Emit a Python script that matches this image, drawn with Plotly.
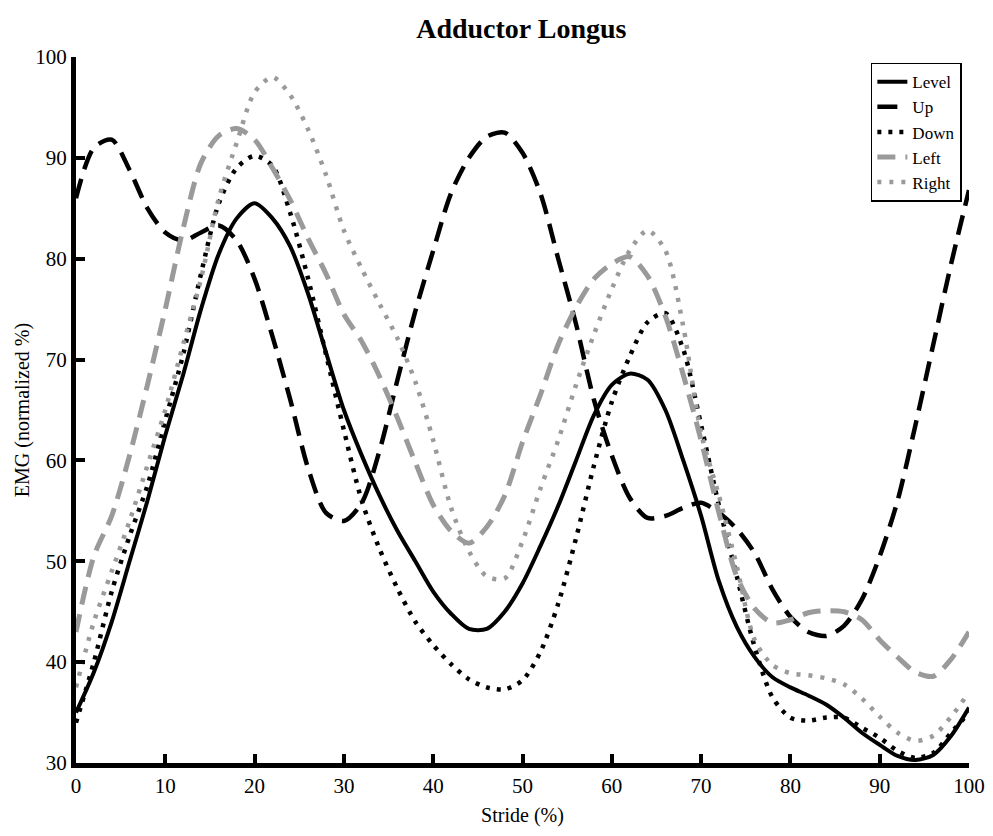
import plotly.graph_objects as go

# Stride positions (% of gait cycle) shared by every condition
stride = [0, 2, 4, 6, 8, 10, 12, 14, 16, 18, 20, 22, 24, 26, 28, 30, 32, 34, 36, 38,
          40, 42, 44, 46, 48, 50, 52, 54, 56, 58, 60, 62, 64, 66, 68, 70, 72, 74, 76, 78,
          80, 82, 84, 86, 88, 90, 92, 94, 96, 98, 100]

# Normalized EMG (%) for each walking condition
level = [35, 39, 44, 50, 56, 62.5, 68.5, 75, 80.5, 84, 85.5, 84, 81.2, 76.5, 70.7, 65,
         60.5, 56.5, 53, 50, 47, 44.8, 43.3, 43.3, 45, 47.8, 51.5, 55.5, 60, 64.5, 67.5,
         68.6, 68, 65, 60, 54.5, 48, 43.5, 40.5, 38.5, 37.5, 36.7, 35.8, 34.5, 33, 31.8,
         30.7, 30.3, 30.8, 32.7, 35.5]
up = [86, 91, 91.8, 88.8, 85, 82.6, 81.8, 82.6, 83.3, 81.8, 78, 72.3, 66, 59.2, 54.8,
      54, 55.8, 61, 68, 74.8, 80.8, 86.5, 90, 92.1, 92.5, 90.5, 86.5, 80, 73.5, 66,
      60.5, 56.3, 54.3, 54.5, 55.3, 55.8, 54.8, 53.2, 50.8, 47.2, 44.5, 43, 42.6, 43.6,
      46.2, 50.5, 56, 63.5, 71.5, 79.5, 86.8]
down = [34, 40, 47, 52.5, 57.5, 64, 70.5, 78.5, 85.5, 89, 90.2, 89.2, 84.5, 78, 70.5,
        63, 56, 51.2, 47.3, 44, 41.7, 39.8, 38.3, 37.5, 37.3, 38.2, 41, 45.8, 52.3, 59.5,
        65.8, 70.3, 73.7, 74.6, 71, 63.5, 55.5, 48.5, 41.5, 36.5, 34.5, 34.2, 34.5, 34.5,
        33.5, 32.5, 31.2, 30.5, 31, 33, 35]
left = [43, 50.5, 54.5, 60.5, 67.5, 75, 83, 89.5, 92.2, 92.9, 91.8, 89, 85.8, 82, 78.5,
        74.5, 71.8, 68.3, 64.2, 59.8, 55.6, 53, 51.8, 53.4, 56.5, 61.8, 66.5, 71.5, 75.2,
        78, 79.5, 80.2, 78.3, 74.3, 68.5, 62, 54.8, 48.5, 45.3, 43.9, 44.2, 44.9, 45.1,
        45, 44.2, 42.2, 40.5, 39, 38.6, 40.3, 43]
right = [37.5, 44, 49, 54, 59.5, 65, 71.5, 78, 86, 91.5, 96.5, 98, 96.2, 92.8, 88.3,
         82.8, 79, 75.5, 72.1, 67.8, 62, 55.3, 51, 48.5, 48.3, 52, 57.2, 62, 67.5, 72.5,
         77, 80.8, 82.8, 80.8, 73.3, 62.7, 56.5, 49.5, 42.2, 39.7, 38.9, 38.7, 38.4, 37.8,
         36.4, 34.6, 33, 32.2, 32.7, 34.6, 37]

x_ticks = [0, 10, 20, 30, 40, 50, 60, 70, 80, 90, 100]
y_ticks = [30, 40, 50, 60, 70, 80, 90, 100]

GRAY = "#9a9a9a"
SERIF = "Liberation Serif, Times New Roman, serif"

series = [
    ("Level", level, dict(color="black", width=4, dash="solid")),
    ("Up", up, dict(color="black", width=4.5, dash="20px,10px")),
    ("Down", down, dict(color="black", width=4.5, dash="4px,7px")),
    ("Left", left, dict(color=GRAY, width=5, dash="18px,10px")),
    ("Right", right, dict(color=GRAY, width=4.5, dash="4px,8px")),
]

fig = go.Figure()
for name, values, style in series:
    fig.add_trace(go.Scatter(
        x=stride, y=values, name=name, mode="lines",
        line=dict(shape="spline", smoothing=0.8, **style),
    ))

axis_common = dict(
    showline=True, linecolor="black", linewidth=5,
    ticks="inside", ticklen=9, tickwidth=4, tickcolor="black",
    showgrid=False, zeroline=False, mirror=False, automargin=False,
    tickfont=dict(family=SERIF, size=21, color="black"),
)

fig.update_layout(
    width=993, height=836,
    margin=dict(l=76, r=24, t=57, b=73, autoexpand=False),
    paper_bgcolor="white", plot_bgcolor="white",
    title=dict(text="<b>Adductor Longus</b>", x=0.525, xanchor="center",
               y=0.966, yanchor="middle",
               font=dict(family=SERIF, size=28, color="black")),
    xaxis=dict(range=[0, 100], tickvals=x_ticks,
               title=dict(text="Stride (%)", standoff=12,
                          font=dict(family=SERIF, size=20, color="black")),
               **axis_common),
    yaxis=dict(range=[30, 100], tickvals=y_ticks,
               title=dict(text="EMG (normalized %)", standoff=2,
                          font=dict(family=SERIF, size=20, color="black")),
               **axis_common),
    legend=dict(x=0.992, y=0.992, xanchor="right", yanchor="top",
                bgcolor="white", bordercolor="black", borderwidth=1.5,
                font=dict(family=SERIF, size=17, color="black"),
                itemwidth=30, tracegroupgap=0),
    showlegend=True,
)

fig.write_html("out.html")
